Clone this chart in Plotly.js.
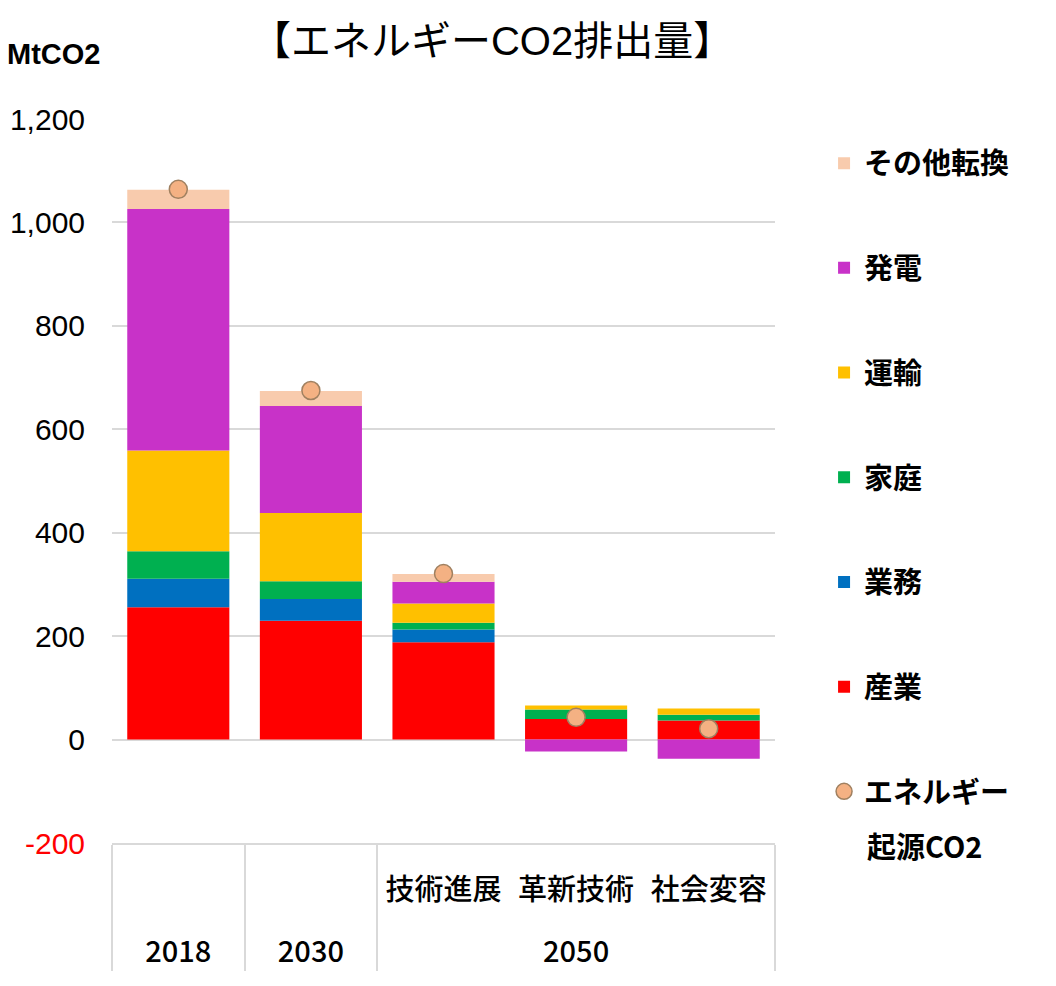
<!DOCTYPE html>
<html>
<head>
<meta charset="utf-8">
<script src="https://cdn.plot.ly/plotly-3.0.1.min.js"></script>
<style>
  html, body { margin: 0; padding: 0; background: #ffffff; }
  #chart { width: 1056px; height: 986px; }
</style>
</head>
<body>
<div id="chart"></div>
<script>
// ---- data ----
const yearGroups   = ["2018", "2030", "2050", "2050", "2050"];
const scenarios    = [" ", " ", "技術進展", "革新技術", "社会変容"];

const sangyo   = [256, 230, 188, 40, 37];    // 産業
const gyomu    = [55, 42, 25, 0, 0];         // 業務
const katei    = [53, 34, 13, 18, 11];       // 家庭
const unyu     = [195, 132, 37, 8, 12];      // 運輸
const hatsuden = [467, 207, 42, -23, -37];   // 発電
const sonota   = [37, 29, 15, 0, 0];         // その他転換
const energyCO2 = [1064, 675, 321, 43, 21];  // エネルギー起源CO2

const yTickVals = [-200, 0, 200, 400, 600, 800, 1000, 1200];
const yTickText = ["-200", "0", "200", "400", "600", "800", "1,000", "1,200"];

const seriesNames  = ["産業", "業務", "家庭", "運輸", "発電", "その他転換"];
const seriesValues = [sangyo, gyomu, katei, unyu, hatsuden, sonota];
const seriesColors = ["#ff0000", "#0070c0", "#00b050", "#ffc000", "#c832c8", "#f8cbad"];
const dotNameLines = ["エネルギー", "起源CO2"];

// ---- traces ----
// parent labels sit one line lower in the reference table
const xCats = [yearGroups.map(s => "<br>" + s), scenarios];
const data = seriesNames.map((name, i) => ({
  type: "bar",
  name: name,
  x: xCats,
  y: seriesValues[i],
  marker: { color: seriesColors[i], line: { width: 0 } },
  legendgroup: "g" + i,
  legendrank: seriesNames.length - i,
  hoverinfo: "skip"
}));
data.push({
  type: "scatter",
  mode: "markers",
  name: dotNameLines[0],
  x: xCats,
  y: energyCO2,
  marker: { color: "#f4b183", size: 18, line: { color: "#a08060", width: 1.5 } },
  legendgroup: "dot",
  legendrank: 10,
  hoverinfo: "skip"
});

// negative tick label in red
const yTickTextStyled = yTickText.map((t, i) =>
  yTickVals[i] < 0 ? '<span style="color:#ff0000">' + t + '</span>' : t);

const legendFont = { family: "'Noto Sans CJK JP', sans-serif", size: 29, color: "#000000", weight: "bold" };

const layout = {
  width: 1056,
  height: 986,
  margin: { l: 112, r: 281, t: 119, b: 143, pad: 0 },
  paper_bgcolor: "#ffffff",
  plot_bgcolor: "#ffffff",
  barmode: "relative",
  bargap: 0.23,
  showlegend: true,
  title: {
    text: "【エネルギーCO2排出量】",
    font: { family: "'Liberation Sans', 'Noto Sans CJK JP', sans-serif", size: 40, color: "#000000" },
    xref: "container", x: 0.466, xanchor: "center",
    yref: "container", y: 0.958, yanchor: "middle"
  },
  font: { family: "'Liberation Sans', 'Noto Sans CJK JP', sans-serif", color: "#000000" },
  xaxis: {
    type: "multicategory",
    showline: true,
    linecolor: "#d9d9d9",
    linewidth: 2,
    showdividers: true,
    dividercolor: "#d9d9d9",
    dividerwidth: 2,
    showgrid: false,
    ticks: "",
    ticklabelstandoff: 20,
    tickfont: { family: "'Noto Sans CJK JP', sans-serif", size: 29, color: "#000000", weight: 500 },
    fixedrange: true
  },
  yaxis: {
    range: [-200, 1200],
    tickvals: yTickVals,
    ticktext: yTickTextStyled,
    showgrid: true,
    gridcolor: "#d9d9d9",
    gridwidth: 2,
    zeroline: true,
    zerolinecolor: "#d9d9d9",
    zerolinewidth: 2,
    showline: false,
    ticks: "",
    ticklabelstandoff: 26,
    tickfont: { family: "'Liberation Sans', sans-serif", size: 30, color: "#000000" },
    fixedrange: true
  },
  legend: {
    x: 1.074, xanchor: "left",
    y: 0.974, yanchor: "top",
    traceorder: "grouped",
    tracegroupgap: 64,
    valign: "top",
    font: legendFont,
    bgcolor: "rgba(0,0,0,0)",
    itemwidth: 30
  },
  annotations: [{
    text: "<b>MtCO2</b>",
    xref: "paper", yref: "paper",
    x: -0.161, xanchor: "left",
    y: 1.09, yanchor: "middle",
    showarrow: false,
    font: { family: "'Liberation Sans', sans-serif", size: 29, color: "#000000" }
  }, {
    // second line of the wrapped legend label
    text: dotNameLines[1],
    xref: "paper", yref: "paper",
    x: 1.136, xanchor: "left",
    y: -0.003, yanchor: "middle",
    showarrow: false,
    font: legendFont
  }]
};

Plotly.newPlot("chart", data, layout, { displayModeBar: false, staticPlot: true });
</script>
</body>
</html>
